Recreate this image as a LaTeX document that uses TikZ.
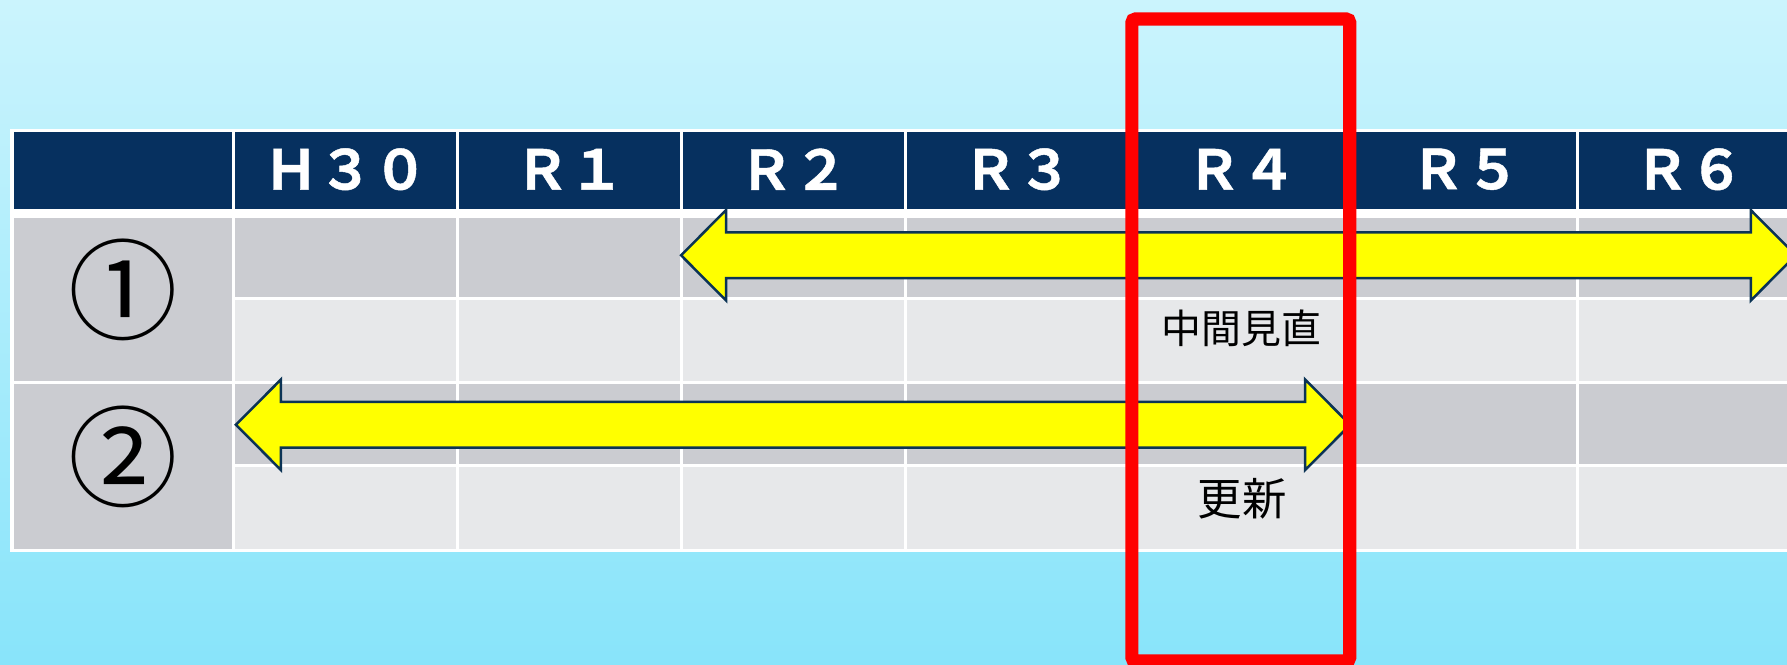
\documentclass[tikz,border=0pt]{standalone}
\usepackage{fontspec}
\newfontfamily\jpfont{Noto Sans CJK JP}
\newfontfamily\jpboldfont[FakeBold=0.8]{Noto Sans CJK JP Bold}
\definecolor{bgtop}{HTML}{CBF4FD}
\definecolor{bgbottom}{HTML}{88E4FA}
\definecolor{hdrnavy}{HTML}{06305F}
\definecolor{cellgray}{HTML}{CBCCD1}
\definecolor{celllight}{HTML}{E7E8EA}
\definecolor{arrowline}{HTML}{0B3355}
\definecolor{arrowfill}{HTML}{FFFF00}
\begin{document}
\begin{tikzpicture}[x=1pt,y=-1pt,
    yearlabel/.style={text=white,font=\jpboldfont\fontsize{48}{48}\selectfont},
    rowmark/.style={font=\jpfont\fontsize{96}{96}\selectfont},
    notelabel/.style={font=\jpfont\fontsize{35}{35}\selectfont},
    spanarrow/.style={fill=arrowfill,draw=arrowline,line width=2.2pt,line join=miter}]
  \useasboundingbox (0,0) rectangle (1568,583.5);
  \shade[top color=bgtop,bottom color=bgbottom] (0,0) rectangle (1568,583.5);
  % table
  \fill[white] (8.8,113) rectangle (1570,484);
  \fill[hdrnavy] (12,115.5) rectangle (204,183.6);
  \fill[cellgray] (12,191.5) rectangle (204,334);
  \fill[cellgray] (12,336.5) rectangle (204,482);
  \foreach \k in {0,...,7} {
    \fill[hdrnavy] (205+196.5*\k+1.3,115.5) rectangle (205+196.5*\k+195.2,183.6);
    \fill[cellgray] (205+196.5*\k+1.3,191.5) rectangle (205+196.5*\k+195.2,260.5);
    \fill[celllight] (205+196.5*\k+1.3,263) rectangle (205+196.5*\k+195.2,334);
    \fill[cellgray] (205+196.5*\k+1.3,336.5) rectangle (205+196.5*\k+195.2,407.5);
    \fill[celllight] (205+196.5*\k+1.3,410) rectangle (205+196.5*\k+195.2,482);
  }
  \foreach \yr [count=\k from 0] in {Ｈ３０,Ｒ１,Ｒ２,Ｒ３,Ｒ４,Ｒ５,Ｒ６} {
    \node[yearlabel] (year\k) at (303.25+196.5*\k,148.5) {\yr};
  }
  \node[rowmark] (mark1) at (108,254) {①};
  \node[rowmark] (mark2) at (108,401) {②};
  % arrows
  \foreach \xa/\xb/\ym in {597.6/1575.7/224, 207/1184.7/372.7} {
    \draw[spanarrow] (\xa,\ym) -- (\xa+39.5,\ym-39.7) -- (\xa+39.5,\ym-20) -- (\xb-39.5,\ym-20)
      -- (\xb-39.5,\ym-39.7) -- (\xb,\ym) -- (\xb-39.5,\ym+39.7) -- (\xb-39.5,\ym+20)
      -- (\xa+39.5,\ym+20) -- (\xa+39.5,\ym+39.7) -- cycle;
  }
  \node[notelabel] (review) at (1089,288) {中間見直};
  \node[notelabel,font=\jpfont\fontsize{39}{39}\selectfont] (renew) at (1090,438) {更新};
  % focus frame
  \draw[red,line width=11.5pt,rounded corners=3pt] (993.2,16.7) rectangle (1184.3,580);
\end{tikzpicture}
\end{document}
